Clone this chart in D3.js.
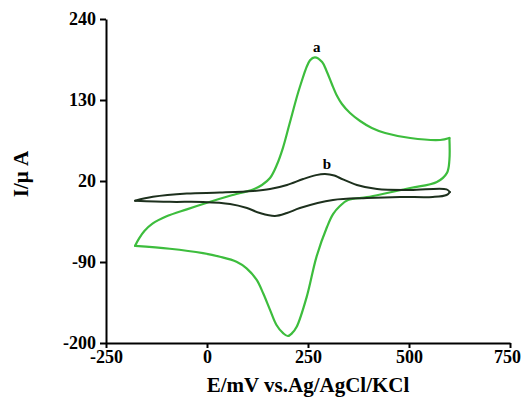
<!DOCTYPE html>
<html>
<head>
<meta charset="utf-8">
<script src="https://cdn.jsdelivr.net/npm/d3@7/dist/d3.min.js"></script>
<style>
  html, body { margin: 0; padding: 0; background: #fff; }
  svg { display: block; }
  .axis text { font-family: "Liberation Serif", "Times New Roman", serif; font-weight: bold; font-size: 18px; fill: #000; }
  .axis path, .axis line { stroke: #000; }
  .title { font-family: "Liberation Serif", "Times New Roman", serif; font-weight: bold; fill: #000; }
</style>
</head>
<body>
<svg id="chart" width="522" height="398"></svg>
<script>
// Axis ticks
const xTicks = [-250, 0, 250, 500, 750];
const yTicks = [-200, -90, 20, 130, 240];

// Curve a: anodic (forward) sweep, potential in mV and current in µA
const aForwardE = [-178, -168, -155, -135, -100, -50, 0, 57, 114, 136, 156, 173, 188, 205, 230, 255, 267, 285, 297, 309, 322, 334, 354, 379, 408, 441, 503, 577, 600];
const aForwardI = [-68, -58, -48, -38, -28, -18.5, -9.5, 0, 8.5, 14.6, 24, 42, 65, 99, 148, 184, 188, 181.6, 168, 151.7, 135.4, 124.6, 112.3, 101.5, 92, 85.2, 78.4, 75.7, 78.4];
// Curve a: cathodic (reverse) sweep
const aReverseE = [600, 600, 594, 569, 503, 446, 396, 349, 329, 312, 297, 271, 247, 222, 210, 200, 189, 172, 156, 139, 123, 98, 73, 32, -10, -92, -178];
const aReverseI = [78.4, 48.5, 31, 18.6, 10.5, 3.7, -2, -5.8, -14, -25, -42.5, -83, -137, -178, -187, -190.5, -187, -175.5, -155, -132.5, -114.4, -98.6, -89.6, -82.8, -78, -72, -68];

// Curve b: forward sweep
const bForwardE = [-178, -134, -50, 32, 114, 156, 198, 238, 270, 292, 315, 329, 371, 421, 503, 593, 601];
const bForwardI = [-6.8, -1.5, 3, 4.3, 6.4, 9.1, 14.6, 22.7, 28, 29.5, 27.5, 24.1, 14.6, 9.1, 7.8, 8.7, 5];
// Curve b: reverse sweep
const bReverseE = [601, 593, 559, 478, 396, 312, 230, 198, 168, 131, 99, 57, -10, -92, -178];
const bReverseI = [5, 1.0, -1.7, -1.7, -3.1, -5.8, -16.7, -23.5, -27.5, -23.5, -16.7, -11.2, -8.5, -8.3, -6.8];

const seriesLabels = ["a", "b"];
const xTitle = "E/mV vs.Ag/AgCl/KCl";
const yTitle = "I/\u03bc A";

const svg = d3.select("#chart");

const x = d3.scaleLinear().domain([-250, 750]).range([106, 510]);
const y = d3.scaleLinear().domain([-200, 240]).range([343, 19]);

const zip = (E, I) => E.map((e, i) => [e, I[i]]);

const line = d3.line()
  .x(d => x(d[0]))
  .y(d => y(d[1]))
  .curve(d3.curveCatmullRom.alpha(0.5));

const curves = [
  { name: seriesLabels[0], color: "#3dbd3d", width: 2.2,
    forward: zip(aForwardE, aForwardI), reverse: zip(aReverseE, aReverseI) },
  { name: seriesLabels[1], color: "#1d301d", width: 2.0,
    forward: zip(bForwardE, bForwardI), reverse: zip(bReverseE, bReverseI) }
];

const plot = svg.append("g");
curves.forEach(c => {
  [c.forward, c.reverse].forEach(seg => {
    plot.append("path")
      .attr("d", line(seg))
      .attr("fill", "none")
      .attr("stroke", c.color)
      .attr("stroke-width", c.width)
      .attr("stroke-linejoin", "round")
      .attr("stroke-linecap", "round");
  });
});

// Peak labels placed above each anodic maximum
curves.forEach(c => {
  const peak = c.forward.reduce((m, d) => (d[1] > m[1] ? d : m));
  svg.append("text")
    .attr("class", "title")
    .attr("x", x(peak[0]) + 2)
    .attr("y", y(peak[1]) - 5)
    .attr("text-anchor", "middle")
    .style("font-size", "15px")
    .text(c.name);
});

// Axes (plain hyphen-minus in tick labels)
const fmt = d => String(d);
const yAxis = d3.axisLeft(y).tickValues(yTicks).tickFormat(fmt).tickSize(6).tickSizeOuter(0).tickPadding(4);
const xAxis = d3.axisBottom(x).tickValues(xTicks).tickFormat(fmt).tickSize(5).tickSizeOuter(0).tickPadding(2);

const gy = svg.append("g").attr("class", "axis").attr("transform", "translate(106,0)").call(yAxis);
const gx = svg.append("g").attr("class", "axis").attr("transform", "translate(0,343)").call(xAxis);
[gx, gy].forEach(g => {
  g.select(".domain").attr("stroke-width", 2);
  g.selectAll(".tick line").attr("stroke-width", 2);
  g.selectAll("text").attr("font-family", null).attr("font-size", null);
});
// keep the last x label inside the frame
gx.selectAll(".tick text").filter(d => d === xTicks[xTicks.length - 1]).attr("dx", -3);

// Axis titles
svg.append("text")
  .attr("class", "title")
  .attr("x", 308)
  .attr("y", 392)
  .attr("text-anchor", "middle")
  .style("font-size", "21px")
  .text(xTitle);

svg.append("text")
  .attr("class", "title")
  .attr("transform", "translate(28,174) rotate(-90)")
  .attr("text-anchor", "middle")
  .style("font-size", "21px")
  .text(yTitle);
</script>
</body>
</html>
